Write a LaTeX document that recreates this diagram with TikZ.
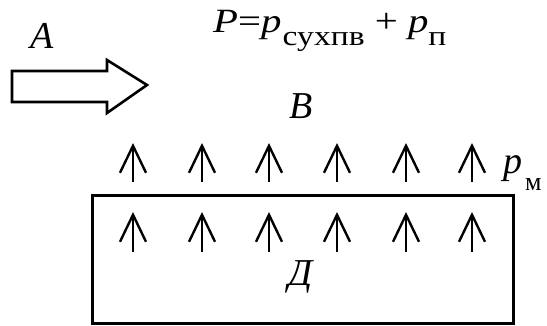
\documentclass[tikz,border=0pt]{standalone}
\usepackage{fontspec}
\setmainfont{Liberation Serif}
\usetikzlibrary{arrows.meta}

\begin{document}
\begin{tikzpicture}[x=1pt,y=-1pt,
  lbl/.style={font=\fontsize{38}{38}\selectfont\itshape,inner sep=0pt},
  frm/.style={font=\fontsize{34}{34}\selectfont,inner sep=0pt},
  up/.style={-{Straight Barb[length=27pt,width=26pt,line width=2.4pt]},line width=2.6pt},
  outline/.style={draw,line width=2.6pt}]
  \useasboundingbox (0,0) rectangle (547,325);

  \node[lbl,anchor=base] (a) at (42,48) {A};
  \draw[outline] (12,71) -- (107,71) -- (107,60) -- (147,85) -- (107,113)
    -- (107,102) -- (12,102) -- cycle;

  \node[frm,anchor=base west] (p) at (213,32)
    {\scalebox{1.2}[1]{\textit{P}=\textit{p}\kern1pt\raisebox{-13pt}{\fontsize{28}{28}\selectfont сухпв}
    + \textit{p}\raisebox{-13pt}{\fontsize{28}{28}\selectfont п}}};
  \node[lbl,anchor=base] (b) at (301,118) {B};

  \node[draw,line width=3pt,minimum width=421pt,minimum height=128pt] (box) at (302.5,259) {};
  \node[lbl,anchor=base] (d) at (301,285) {Д};
  \node[lbl,anchor=base west] (pm) at (503,173)
    {p\kern3pt\raisebox{-17pt}{\fontsize{26}{26}\selectfont\upshape м}};

  \foreach \x in {133,202,269,337,406,472} {
    \draw[up] (\x,182) -- (\x,143);
    \draw[up] (\x,252) -- (\x,212);
  }
\end{tikzpicture}
\end{document}
